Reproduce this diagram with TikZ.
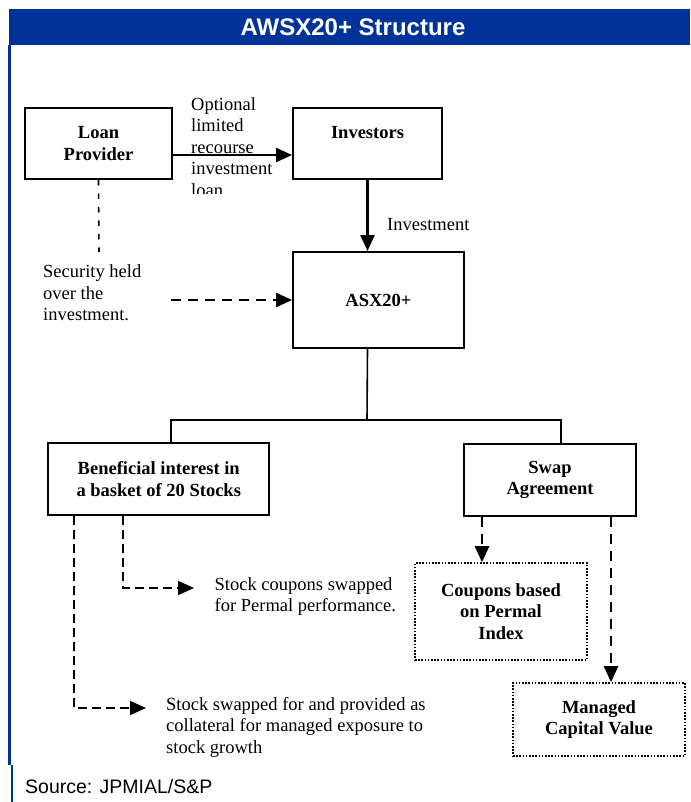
\documentclass[tikz,border=0pt]{standalone}
\usepackage{fontspec}
\setmainfont{Liberation Serif}
\setsansfont{Liberation Sans}
\usetikzlibrary{calc, arrows.meta, positioning}
\definecolor{awsblue}{HTML}{003399}
\newcommand{\diagfont}{\fontsize{18.5pt}{21.5pt}\selectfont}

\begin{document}
\begin{tikzpicture}[x=1pt, y=-1pt,
    box/.style={draw, line width=2pt, font=\diagfont\bfseries, align=center, inner sep=0pt},
    dotbox/.style={box, line width=1.6pt, dash pattern=on 1.6pt off 1.6pt},
    txt/.style={font=\diagfont, align=left, anchor=west, inner sep=0pt},
    tip/.style={-{Triangle[length=16pt, width=14pt]}},
    dashline/.style={dash pattern=on 10pt off 7pt}]
            \useasboundingbox (0,0) rectangle (690,802);

            % Frame and title
            \fill[awsblue] (9,9) rectangle (690,45);
            \fill[awsblue] (8,45) rectangle (11,765);
            \fill[awsblue] (11,765) rectangle (13,802);
            \node[text=white, font=\sffamily\bfseries\fontsize{24pt}{28pt}\selectfont] (title) at (353,27) {AWSX20+ Structure};

            % Boxes
            \node[box, minimum width=147pt, minimum height=71pt] (loan) at (98.5,143.5) {Loan\\Provider};
            \node[box, minimum width=149pt, minimum height=71pt] (inv) at (367.5,143.5) {Investors\\\mbox{}};
            \node[box, minimum width=171pt, minimum height=96pt] (asx) at (378.5,300) {ASX20+};
            \node[box, minimum width=221pt, minimum height=72pt] (ben) at (158.75,479) {Beneficial interest in\\a basket of 20 Stocks};
            \node[box, minimum width=172pt, minimum height=72pt] (swap) at (550,480) {Swap\\Agreement};
            \node[dotbox, minimum width=172pt, minimum height=97pt] (cpn) at (501,611.5) {Coupons based\\on Permal\\Index};
            \node[dotbox, minimum width=172pt, minimum height=73pt] (mcv) at (599,719.5) {Managed\\Capital Value};

            % Loan and investment
            \draw[tip, line width=2.4pt] ([yshift=-11.5pt]loan.east) -- ([yshift=-11.5pt]inv.west);
            \begin{scope}
                \clip (180,85) rectangle (292,193.5);
                \node[txt] (loanlbl) at (191,147) {Optional\\limited\\recourse\\investment\\loan};
            \end{scope}
            \draw[tip, line width=2.4pt] (inv.south) -- (inv.south |- asx.north);
            \node[txt] (invlbl) at (387,225) {Investment};

            % Security
            \coordinate (secend) at (99,252);
            \draw[line width=1.6pt, dash pattern=on 5.5pt off 8pt] (loan.south) -- (secend);
            \node[txt] (seclbl) at (43,293) {Security held\\over the\\investment.};
            \coordinate (secstart) at (171,300);
            \draw[tip, dashline, line width=2.4pt] (secstart) -- (asx.west);

            % Tree
            \coordinate (split) at (367,420);
            \coordinate (jl) at (171,420);
            \coordinate (jr) at (561,420);
            \draw[line width=1.6pt] (inv.south |- asx.south) -- (split);
            \draw[line width=1.6pt] (jl |- ben.north) -- (jl) -- (jr) -- (jr |- swap.north);

            % Stock flows
            \coordinate (tipA) at (194,588);
            \coordinate (tipB) at (146,708);
            \draw[tip, line width=1.6pt, dash pattern=on 9pt off 5pt] ([xshift=-36pt]ben.south) |- (tipA);
            \draw[tip, line width=1.6pt, dash pattern=on 9pt off 5pt] ([xshift=-85pt]ben.south) |- (tipB);
            \node[txt] (cpnlbl) at (214.5,596.5) {Stock coupons swapped\\for Permal performance.};
            \node[txt] (stklbl) at (166,727) {Stock swapped for and provided as\\collateral for managed exposure to\\stock growth};

            % Swap flows
            \draw[tip, dashline, line width=2.6pt] ([xshift=-68pt]swap.south) -- ([xshift=-68pt]swap.south |- cpn.north);
            \draw[tip, dashline, line width=2.6pt] ([xshift=61pt]swap.south) -- ([xshift=61pt]swap.south |- mcv.north);

            % Source
            \node[txt, font=\sffamily\fontsize{19.5pt}{22pt}\selectfont] (src) at (25,787) {Source: JPMIAL/S\&P};
        \end{tikzpicture}
\end{document}
